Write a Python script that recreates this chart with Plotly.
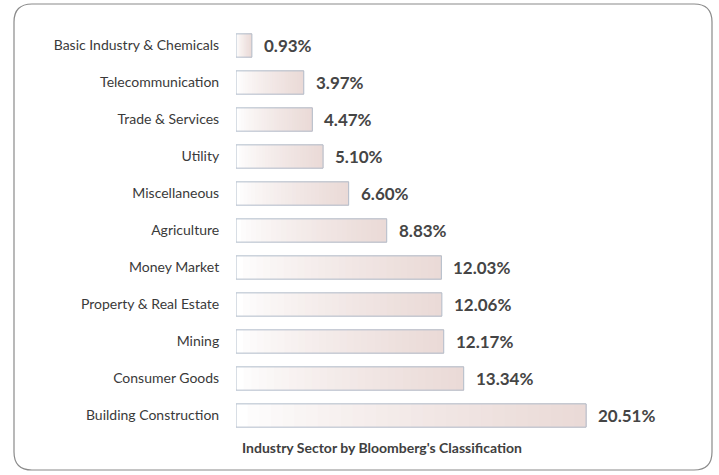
import plotly.graph_objects as go

categories = ["Basic Industry & Chemicals", "Telecommunication", "Trade & Services", "Utility",
              "Miscellaneous", "Agriculture", "Money Market", "Property & Real Estate",
              "Mining", "Consumer Goods", "Building Construction"]
values = [0.93, 3.97, 4.47, 5.10, 6.60, 8.83, 12.03, 12.06, 12.17, 13.34, 20.51]
title_text = "Industry Sector by Bloomberg's Classification"

W, H = 719, 475
L, R, T, B = 236, 19, 27, 41
pw, ph = W - L - R, H - T - B
xmax = pw / 17.07

fig = go.Figure()

# gradient fill (white -> pale rose); each layer covers from its start to the bar end
N = 30
c0 = (255, 255, 255)
c1 = (234, 218, 215)
for k in range(N):
    t = (k / (N - 1)) ** 0.75
    col = "rgb(%d,%d,%d)" % tuple(round(a + (b - a) * t) for a, b in zip(c0, c1))
    fig.add_trace(go.Bar(
        y=categories, x=[v * (N - k) / N for v in values], base=[v * k / N for v in values],
        orientation="h", marker=dict(color=col, line=dict(width=0)),
        hoverinfo="skip", showlegend=False))

# outline
fig.add_trace(go.Bar(
    y=categories, x=values, orientation="h",
    marker=dict(color="rgba(0,0,0,0)", line=dict(color="#b2bdcb", width=1)),
    showlegend=False))

for c, v in zip(categories, values):
    fig.add_annotation(x=v, y=c, text="<b>%.2f%%</b>" % v, showarrow=False,
                       xanchor="left", xshift=10,
                       font=dict(family="Lato", size=17, color="#454545"))

fig.add_annotation(xref="paper", yref="paper", x=(240 - L) / pw, y=(H - B - 447) / ph,
                   xanchor="left", yanchor="middle", showarrow=False,
                   text="<b>" + title_text + "</b>",
                   font=dict(family="Lato", size=14, color="#404040"))

# rounded frame
x0, x1 = (14 - L) / pw, (712 - L) / pw
y0, y1 = (H - B - 470) / ph, (H - B - 4) / ph
rx, ry = 18 / pw, 18 / ph
path = (f"M {x0+rx},{y1} L {x1-rx},{y1} Q {x1},{y1} {x1},{y1-ry} "
        f"L {x1},{y0+ry} Q {x1},{y0} {x1-rx},{y0} L {x0+rx},{y0} "
        f"Q {x0},{y0} {x0},{y0+ry} L {x0},{y1-ry} Q {x0},{y1} {x0+rx},{y1} Z")
fig.add_shape(type="path", xref="paper", yref="paper", path=path,
              line=dict(color="#8a8a8a", width=1.2))

fig.update_layout(
    width=W, height=H, margin=dict(l=L, r=R, t=T, b=B, autoexpand=False),
    barmode="overlay", bargap=0.37,
    plot_bgcolor="white", paper_bgcolor="white",
    xaxis=dict(range=[0, xmax], visible=False),
    yaxis=dict(categoryorder="array", categoryarray=categories, autorange="reversed",
               showgrid=False, zeroline=False, showline=False, automargin=False,
               ticks="outside", ticklen=13, tickcolor="rgba(0,0,0,0)",
               tickfont=dict(family="Lato", size=14, color="#3a3a3a")),
)

fig.write_html("out.html", config={"displayModeBar": False},
               post_script="document.body.style.margin='0';document.body.style.padding='0';document.body.style.overflow='hidden';")
